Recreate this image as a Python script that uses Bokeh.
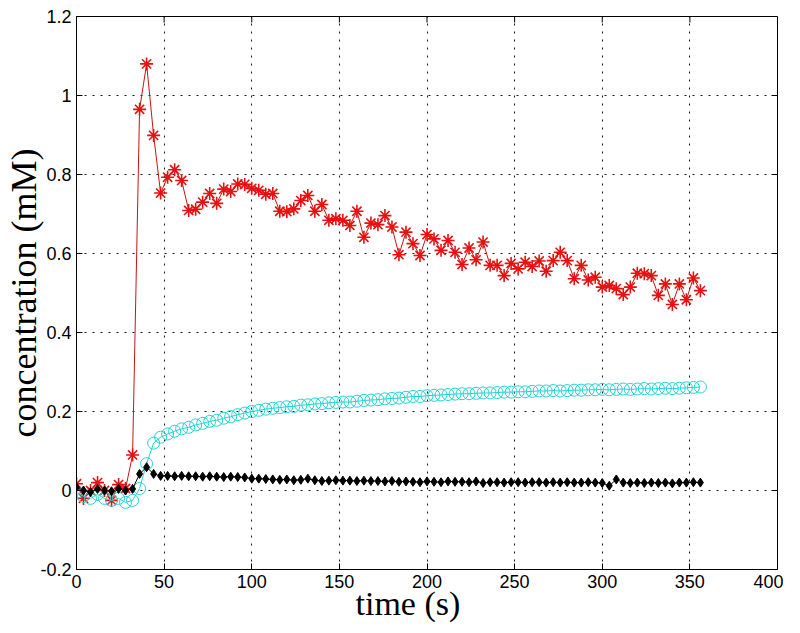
import math
from bokeh.plotting import figure
from bokeh.models import FixedTicker, Range1d, Title
from bokeh.embed import file_html
from bokeh.resources import INLINE

# ---- data ----
time_s = list(range(0, 357, 4))

red_conc = [0.017, -0.020, 0.000, 0.020, 0.000, -0.025, 0.015, 0.005, 0.090,
            0.965, 1.080, 0.899, 0.753, 0.793, 0.812, 0.785, 0.709, 0.712, 0.730,
            0.752, 0.727, 0.763, 0.757, 0.776, 0.775, 0.765, 0.760, 0.750, 0.752,
            0.707, 0.706, 0.713, 0.734, 0.747, 0.707, 0.724, 0.684, 0.688, 0.684,
            0.671, 0.707, 0.641, 0.677, 0.673, 0.696, 0.667, 0.597, 0.654, 0.625,
            0.595, 0.648,
            0.637, 0.608, 0.633, 0.603, 0.572, 0.614, 0.584, 0.629, 0.570, 0.570,
            0.544, 0.575, 0.561, 0.578, 0.567, 0.581, 0.555, 0.582, 0.603, 0.582,
            0.536, 0.570, 0.533, 0.540, 0.515, 0.519, 0.511,
            0.496, 0.515, 0.550, 0.549, 0.544, 0.494, 0.523, 0.471, 0.523, 0.483,
            0.538, 0.506]

cyan_conc = [-0.005, -0.015, -0.020, -0.010, -0.020, -0.025, -0.020, -0.030, -0.025,
             0.005, 0.068, 0.120, 0.135, 0.143, 0.150, 0.156, 0.160, 0.166, 0.170,
             0.175, 0.178, 0.183, 0.187, 0.192, 0.196, 0.200, 0.203, 0.206, 0.208,
             0.210, 0.212, 0.213, 0.216, 0.217, 0.219, 0.220, 0.222, 0.223, 0.224,
             0.224, 0.226, 0.228, 0.229, 0.230, 0.232, 0.233, 0.234, 0.236, 0.238,
             0.238, 0.240, 0.241, 0.242, 0.243, 0.244, 0.245, 0.245, 0.246, 0.247,
             0.247, 0.248, 0.249, 0.249, 0.250, 0.250, 0.251, 0.252, 0.252, 0.253,
             0.252, 0.253, 0.254, 0.254, 0.255, 0.255, 0.256, 0.255, 0.256, 0.257,
             0.256, 0.257, 0.258, 0.257, 0.258, 0.259, 0.258, 0.259, 0.260, 0.261,
             0.262]

black_conc = [0.008, 0.000, -0.004, 0.004, 0.000, -0.002, 0.004, 0.000, 0.004,
              0.042, 0.059, 0.042, 0.037, 0.037, 0.036, 0.037, 0.036, 0.036, 0.035,
              0.036, 0.035, 0.034, 0.035, 0.034, 0.033, 0.030, 0.030, 0.029, 0.028,
              0.027, 0.028, 0.026, 0.027, 0.030, 0.026, 0.024, 0.025, 0.026, 0.025,
              0.025, 0.024, 0.025, 0.024, 0.024, 0.023, 0.024, 0.022, 0.023, 0.022,
              0.021, 0.023, 0.022, 0.021, 0.023, 0.022, 0.022, 0.021, 0.023, 0.019,
              0.021, 0.021, 0.020, 0.021, 0.021, 0.020, 0.021, 0.021, 0.020, 0.021,
              0.020, 0.021, 0.020, 0.020, 0.021, 0.020, 0.019, 0.012, 0.028, 0.020,
              0.019, 0.020, 0.019, 0.020, 0.019, 0.020, 0.018, 0.020, 0.020, 0.021,
              0.020]

x_ticks = [0, 50, 100, 150, 200, 250, 300, 350, 400]
x_tick_labels = ["0", "50", "100", "150", "200", "250", "300", "350", "400"]
y_ticks = [-0.2, 0, 0.2, 0.4, 0.6, 0.8, 1, 1.2]
y_tick_labels = ["-0.2", "0", "0.2", "0.4", "0.6", "0.8", "1", "1.2"]
x_min, x_max = 0, 400
y_min, y_max = -0.2, 1.2
x_label = "time (s)"
y_label = "concentration (mM)"

RED_LINE = "#c81414"
RED = "#e81010"
CYAN = "#22d4d4"

p = figure(frame_width=701, frame_height=553,
           min_border_left=76, min_border_top=16, min_border_right=6, min_border_bottom=58,
           x_range=Range1d(x_min, x_max), y_range=Range1d(y_min, y_max),
           output_backend="svg", toolbar_location=None)
p.background_fill_color = "white"
p.border_fill_color = "white"
p.outline_line_color = "black"
p.outline_line_width = 1
p.outline_line_alpha = 1

TICK_FONT = "Liberation Sans"
LABEL_FONT = "Liberation Serif"

for ax, ticks, labels in ((p.xaxis[0], x_ticks, x_tick_labels), (p.yaxis[0], y_ticks, y_tick_labels)):
    ax.ticker = FixedTicker(ticks=ticks)
    ax.major_label_overrides = {t: l for t, l in zip(ticks, labels)}
    ax.major_tick_in = 6
    ax.major_tick_out = 0
    ax.minor_tick_line_color = None
    ax.axis_line_color = "black"
    ax.major_tick_line_color = "black"
    ax.major_label_text_font = TICK_FONT
    ax.major_label_text_font_size = "18px"
    ax.major_label_text_color = "black"
    ax.axis_label_text_font = LABEL_FONT
    ax.axis_label_text_font_style = "normal"
    ax.axis_label_text_color = "black"

p.xaxis[0].major_label_standoff = 5
p.yaxis[0].axis_label = y_label
p.yaxis[0].axis_label_text_font_size = "36px"
p.yaxis[0].axis_label_standoff = -7
p.yaxis[0].major_label_standoff = 5

# x label, placed slightly left of centre as in the reference
p.add_layout(Title(text=x_label, align="left", offset=279, standoff=-16,
                   text_font=LABEL_FONT, text_font_size="34px",
                   text_font_style="normal", text_color="black"), "below")

for g, ticks in ((p.xgrid[0], x_ticks), (p.ygrid[0], y_ticks)):
    g.ticker = FixedTicker(ticks=ticks)
    g.grid_line_color = "black"
    g.grid_line_dash = "2 6"
    g.grid_line_width = 1
    g.grid_line_alpha = 0.9

# inward ticks on the top and right edges of the box (MATLAB "box on")
p.ray(x=x_ticks, y=[y_max] * len(x_ticks), length=6, length_units="screen",
      angle=-math.pi / 2, line_color="black", line_width=1)
p.ray(x=[x_max] * len(y_ticks), y=y_ticks, length=6, length_units="screen",
      angle=math.pi, line_color="black", line_width=1)

# red series
p.line(time_s, red_conc, line_color=RED_LINE, line_width=1)
p.scatter(time_s, red_conc, marker="asterisk", size=13, line_color=RED, line_width=1.6)
# cyan series
p.line(time_s, cyan_conc, line_color=CYAN, line_width=1)
p.scatter(time_s, cyan_conc, marker="circle", size=12, fill_color=None, line_color=CYAN, line_width=1)
# black series
p.line(time_s, black_conc, line_color="black", line_width=1)
p.scatter(time_s, black_conc, marker="diamond", size=9, fill_color="black", line_color="black")

open("out.html", "w").write(file_html(p, INLINE))
